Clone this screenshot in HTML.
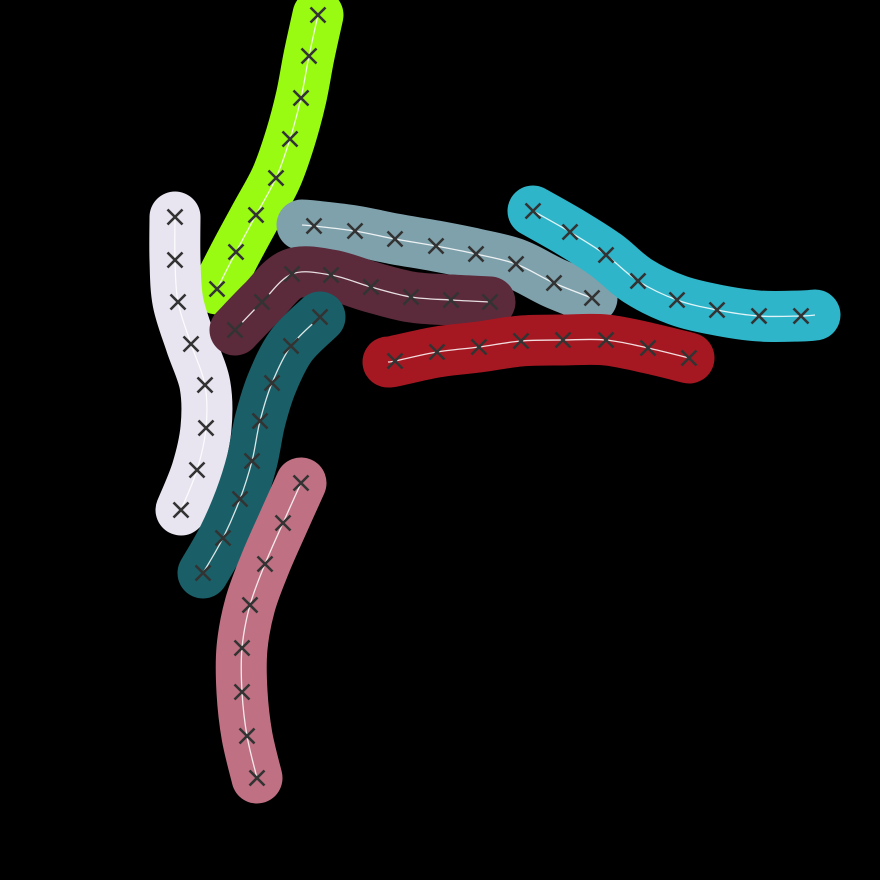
<!DOCTYPE html>
<html>
<head>
<meta charset="utf-8">
<style>
html,body{margin:0;padding:0;background:#000;}
svg{display:block;}
</style>
</head>
<body>
<svg id="chart" width="880" height="880" viewBox="0 0 880 880" xmlns="http://www.w3.org/2000/svg">
<rect x="0" y="0" width="880" height="880" fill="#000"/>
</svg>
<script>
const seriesNames = ["green","lavender","slate","maroon","cyan","red","teal","pink"];
const seriesColors = ["#99fb12","#e8e4f0","#7fa1ac","#5b2a3b","#2fb5c9","#a51822","#1a5f67","#bf7183"];
const greenX = [318,309,301,290,276,256,236,217];
const greenY = [15,56,98,139,178,215,252,289];
const lavenderX = [175,175,178,191,205,206,197,181];
const lavenderY = [217,260,302,344,385,428,470,510];
const slateX = [302,314,355,395,436,476,516,554,592];
const slateY = [225,226,231,239,246,254,264,283,298];
const maroonX = [235,262,292,331,371,411,451,490];
const maroonY = [330,302,274,275,287,297,300,302];
const cyanX = [533,570,606,638,677,717,759,801,815];
const cyanY = [211,232,255,281,300,310,316,316,315];
const redX = [388,395,437,479,521,563,606,648,689];
const redY = [362,361,352,347,341,340,340,348,358];
const tealX = [320,291,272,260,252,240,223,203];
const tealY = [317,346,383,421,461,499,538,573];
const pinkX = [301,283,265,250,242,242,247,257];
const pinkY = [483,523,564,605,648,692,736,778];

const allX = [greenX,lavenderX,slateX,maroonX,cyanX,redX,tealX,pinkX];
const allY = [greenY,lavenderY,slateY,maroonY,cyanY,redY,tealY,pinkY];
const markerSkipFirst = [false,false,true,false,false,true,false,false];
const markerSkipLast = [false,false,false,false,true,false,false,false];

const xDomain = [0,880], yDomain = [0,880];
function xScale(v){ return (v - xDomain[0]) / (xDomain[1]-xDomain[0]) * 880; }
function yScale(v){ return (v - yDomain[0]) / (yDomain[1]-yDomain[0]) * 880; }

function smoothPath(pts){
  let d = "M" + pts[0][0] + "," + pts[0][1];
  for (let i=0;i<pts.length-1;i++){
    const p0 = pts[i-1]||pts[i], p1=pts[i], p2=pts[i+1], p3=pts[i+2]||p2;
    const c1x = p1[0]+(p2[0]-p0[0])/6, c1y = p1[1]+(p2[1]-p0[1])/6;
    const c2x = p2[0]-(p3[0]-p1[0])/6, c2y = p2[1]-(p3[1]-p1[1])/6;
    d += " C"+c1x+","+c1y+" "+c2x+","+c2y+" "+p2[0]+","+p2[1];
  }
  return d;
}

const svg = document.getElementById("chart");
const NS = "http://www.w3.org/2000/svg";
for (let s=0;s<seriesNames.length;s++){
  const g = document.createElementNS(NS,"g");
  
  
  const pts = allX[s].map((v,i)=>[xScale(v), yScale(allY[s][i])]);
  const d = smoothPath(pts);
  const band = document.createElementNS(NS,"path");
  
  
  band.setAttribute("d", d);
  band.setAttribute("fill","none");
  band.setAttribute("stroke", seriesColors[s]);
  band.setAttribute("stroke-width","51");
  band.setAttribute("stroke-linecap","round");
  band.setAttribute("stroke-linejoin","round");
  g.appendChild(band);
  const line = document.createElementNS(NS,"path");
  
  
  line.setAttribute("d", d);
  line.setAttribute("fill","none");
  line.setAttribute("stroke","#ffffff");
  line.setAttribute("stroke-opacity","0.85");
  line.setAttribute("stroke-width","1.3");
  g.appendChild(line);
  pts.forEach((p,i)=>{
    if (i===0 && markerSkipFirst[s]) return;
    if (i===pts.length-1 && markerSkipLast[s]) return;
    const m = document.createElementNS(NS,"path");
    
    
    const r = 7.5;
    m.setAttribute("d","M"+(p[0]-r)+","+(p[1]-r)+" L"+(p[0]+r)+","+(p[1]+r)+" M"+(p[0]-r)+","+(p[1]+r)+" L"+(p[0]+r)+","+(p[1]-r));
    m.setAttribute("stroke","#333333");
    m.setAttribute("stroke-width","2.6");
    m.setAttribute("fill","none");
    g.appendChild(m);
  });
  svg.appendChild(g);
}
</script>
</body>
</html>
